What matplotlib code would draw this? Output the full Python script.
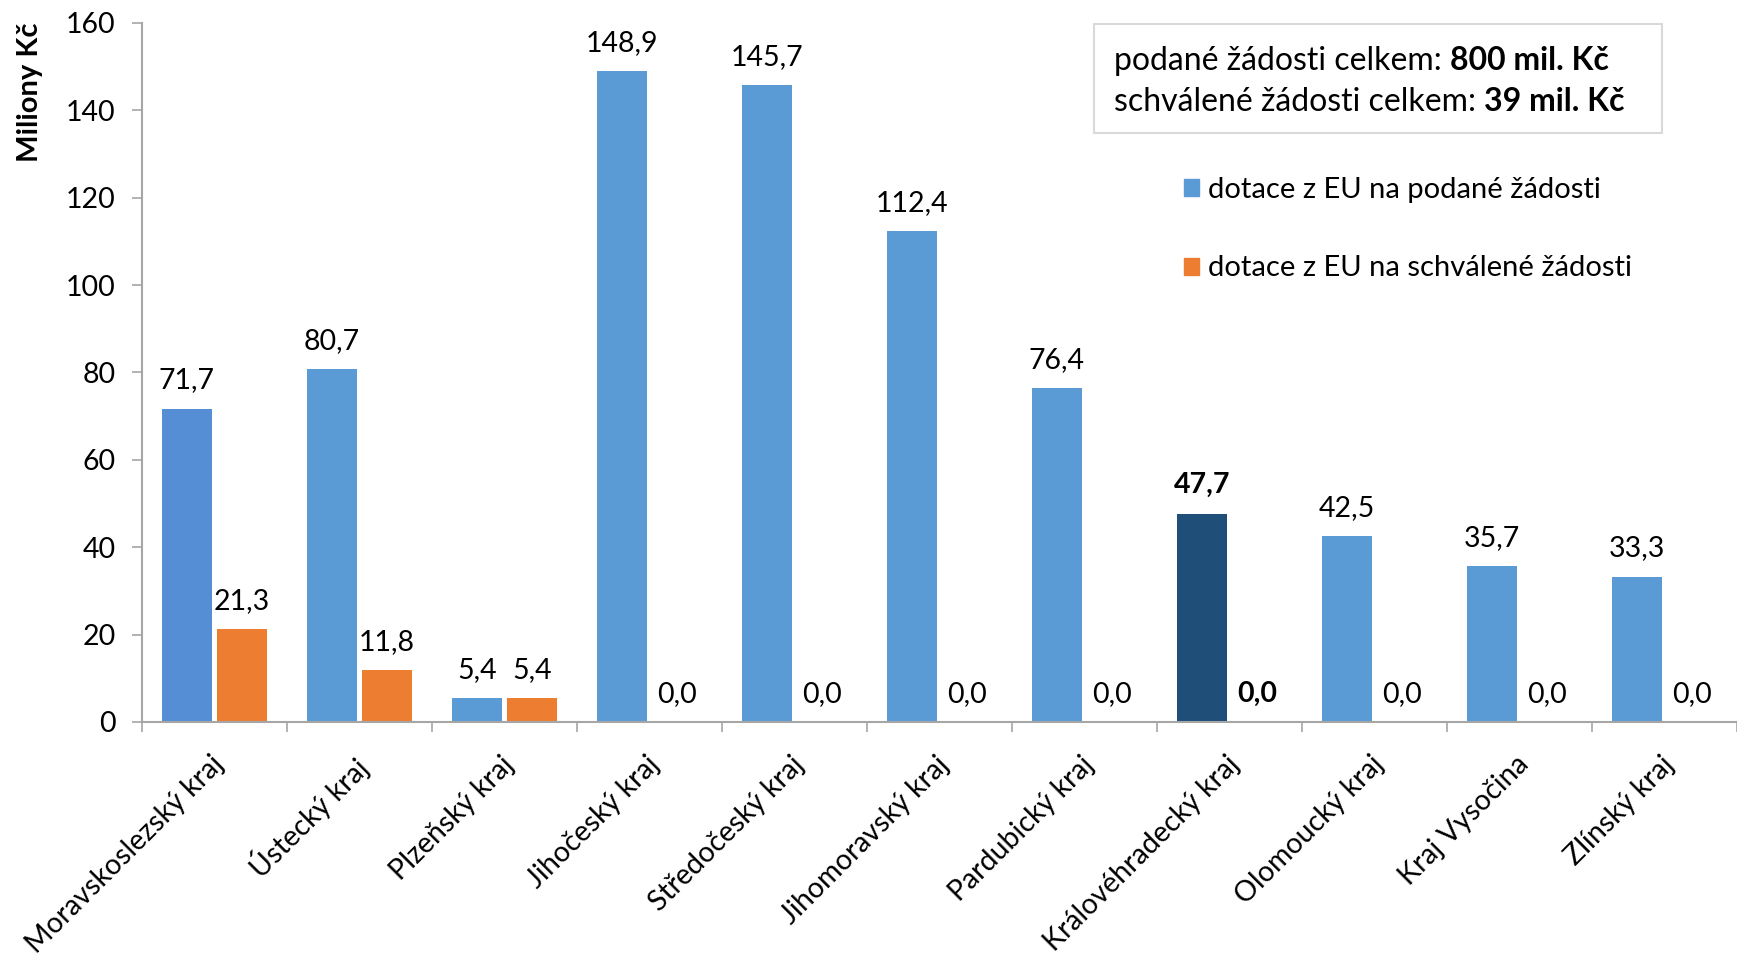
import matplotlib
matplotlib.use("Agg")
import numpy as np
import matplotlib.pyplot as plt
from matplotlib.patches import Patch, Rectangle

plt.rcParams['font.family'] = ['Lato', 'DejaVu Sans']

kraje = ['Moravskoslezský kraj', 'Ústecký kraj', 'Plzeňský kraj', 'Jihočeský kraj',
         'Středočeský kraj', 'Jihomoravský kraj', 'Pardubický kraj',
         'Královéhradecký kraj', 'Olomoucký kraj', 'Kraj Vysočina', 'Zlínský kraj']
podane = [71.7, 80.7, 5.4, 148.9, 145.7, 112.4, 76.4, 47.7, 42.5, 35.7, 33.3]
schvalene = [21.3, 11.8, 5.4, 0.0, 0.0, 0.0, 0.0, 0.0, 0.0, 0.0, 0.0]
zvyrazneny = 'Královéhradecký kraj'
souhrn = [('podané žádosti celkem: ', '800 mil. Kč'),
          ('schválené žádosti celkem: ', '39 mil. Kč')]

BLUE = '#5B9BD5'
ORANGE = '#ED7D31'
DARK = '#1F4E79'
AXIS = '#A6A6A6'
FS = 20.5

W, H = 1737, 957
fig = plt.figure(figsize=(W / 100, H / 100), dpi=100)
ax = fig.add_axes([142 / W, 1 - 722 / H, 1 - 142 / W, (722 - 23) / H])

x = np.arange(len(kraje))
barw = 0.34
off = 0.19

blue_cols = [BLUE] * len(kraje)
blue_cols[0] = '#558ED5'
blue_cols[kraje.index(zvyrazneny)] = DARK

ax.bar(x - off, podane, barw, color=blue_cols)
ax.bar(x + off, schvalene, barw, color=ORANGE)

fmt = lambda v: f'{v:.1f}'.replace('.', ',')
for i, k in enumerate(kraje):
    bold = 'bold' if k == zvyrazneny else 'normal'
    ax.annotate(fmt(podane[i]), (x[i] - off, podane[i]), xytext=(0, 11),
                textcoords='offset points', ha='center', va='bottom',
                fontsize=FS, fontweight=bold)
    ax.annotate(fmt(schvalene[i]), (x[i] + off, schvalene[i]), xytext=(0, 11),
                textcoords='offset points', ha='center', va='bottom',
                fontsize=FS, fontweight=bold)

ax.set_xlim(-0.5, 10.44)
ax.set_ylim(0, 160)
ax.set_yticks(range(0, 161, 20))
# popisky lehce posunute doprava (jako v Excelu)
ax.set_xticks(x + 0.1)
ax.set_xticklabels(kraje, rotation=45, ha='right', fontsize=FS)
ax.set_xticks(np.arange(-0.5, len(kraje), 1), minor=True)
ax.tick_params(axis='x', which='major', length=0, pad=21)
ax.tick_params(axis='x', which='minor', length=7, width=1.2, color=AXIS)
ax.tick_params(axis='y', length=7, width=1.2, color=AXIS, labelsize=FS, pad=12)

for s in ['top', 'right']:
    ax.spines[s].set_visible(False)
for s in ['left', 'bottom']:
    ax.spines[s].set_color(AXIS)
    ax.spines[s].set_linewidth(1.5)

fig.text(30 / W, 1 - 92 / H, 'Miliony Kč', rotation=90, ha='center', va='center',
         fontsize=21, fontweight='bold')

# souhrnny box
fig.add_artist(Rectangle((1094 / W, 1 - 133 / H), (1662 - 1094) / W, (133 - 24) / H,
                         transform=fig.transFigure, facecolor='white',
                         edgecolor='#D9D9D9', linewidth=1.5))
renderer = fig.canvas.get_renderer()
for (a, b), yy in zip(souhrn, [58, 99]):
    t1 = fig.text(1114 / W, 1 - yy / H, a, fontsize=23, va='center_baseline')
    bb = t1.get_window_extent(renderer)
    fig.text(bb.x1 / W, 1 - yy / H, b, fontsize=23, fontweight='bold',
             va='center_baseline')

handles = [Patch(color=BLUE), Patch(color=ORANGE)]
fig.legend(handles, ['dotace z EU na podané žádosti', 'dotace z EU na schválené žádosti'],
           loc='upper left', bbox_to_anchor=(1184 / W, 1 - 177 / H), frameon=False,
           fontsize=21, handlelength=0.53, handleheight=0.53, handletextpad=0.3,
           labelspacing=1.8, borderpad=0, borderaxespad=0)

fig.savefig('out.png', dpi=100)
